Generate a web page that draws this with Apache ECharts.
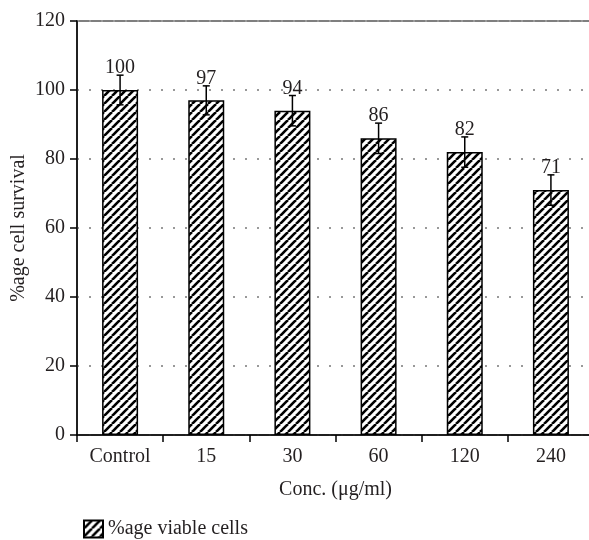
<!DOCTYPE html>
<html>
<head>
<meta charset="utf-8">
<script src="https://cdn.jsdelivr.net/npm/echarts@6/dist/echarts.min.js"></script>
<style>
html,body{margin:0;padding:0;background:#fff;}
#chart{width:589px;height:540px;}
</style>
</head>
<body>
<div id="chart"></div>
<script>
const categories = ['Control', '15', '30', '60', '120', '240'];
const survival = [100, 97, 94, 86, 82, 71];
const errors = [4.3, 4.2, 4.4, 4.4, 4.4, 4.4];
const yTicks = [0, 20, 40, 60, 80, 100, 120];
const seriesName = '%age viable cells';

const FONT = 'Liberation Serif';
const TXT = '#231f20';

// hatch pattern "/"
const S = 8;
const tile = document.createElement('canvas');
tile.width = S; tile.height = S;
const ctx = tile.getContext('2d');
ctx.fillStyle = '#fff';
ctx.fillRect(0, 0, S, S);
ctx.strokeStyle = '#000';
ctx.lineWidth = 2.6;
for (let k = -1; k <= 1; k++) {
  ctx.beginPath();
  ctx.moveTo(k * S, S);
  ctx.lineTo(k * S + S, 0);
  ctx.stroke();
}

const chart = echarts.init(document.getElementById('chart'));
const errData = survival.map((v, i) => [i, v, errors[i]]);

chart.setOption({
  animation: false,
  backgroundColor: '#fff',
  grid: {
    left: 77, right: -5, top: 21, bottom: 105,
    outerBoundsMode: 'none',
    containLabel: false,
    show: true, borderColor: '#555', borderWidth: 1.5, backgroundColor: 'transparent'
  },
  legend: {
    data: [seriesName],
    left: 78, top: 514,
    icon: 'rect',
    itemWidth: 19, itemHeight: 17, itemGap: 10,
    textStyle: { fontFamily: FONT, fontSize: 20, color: TXT }
  },
  xAxis: {
    type: 'category',
    data: categories,
    boundaryGap: true,
    name: 'Conc. (μg/ml)',
    nameLocation: 'middle',
    nameGap: 45,
    nameMoveOverlap: false,
    nameTextStyle: { fontFamily: FONT, fontSize: 20, color: TXT },
    axisLine: { lineStyle: { color: '#000', width: 1.5 } },
    axisTick: { show: true, length: 7, lineStyle: { color: '#000', width: 1.5 } },
    axisLabel: { fontFamily: FONT, fontSize: 20, color: TXT, margin: 12 },
    splitLine: { show: false }
  },
  yAxis: {
    type: 'value',
    min: yTicks[0], max: yTicks[yTicks.length - 1], interval: 20,
    name: '%age cell survival',
    nameLocation: 'middle',
    nameGap: 48,
    nameMoveOverlap: false,
    nameTextStyle: { fontFamily: FONT, fontSize: 20, color: TXT },
    axisLine: { show: true, lineStyle: { color: '#000', width: 1.5 } },
    axisTick: { show: true, length: 7, lineStyle: { color: '#000', width: 1.5 } },
    axisLabel: { fontFamily: FONT, fontSize: 20, color: TXT, margin: 12 },
    splitLine: { show: true, lineStyle: { color: '#999', width: 2, type: [2, 10] } }
  },
  series: [
    {
      name: seriesName,
      type: 'bar',
      data: survival,
      barWidth: 36,
      itemStyle: {
        color: { image: tile, repeat: 'repeat' },
        borderColor: '#000',
        borderWidth: 1.5
      }
    },
    {
      type: 'custom',
      data: errData,
      encode: { x: 0, y: 1 },
      z: 10,
      renderItem: function (params, api) {
        const i = api.value(0), v = api.value(1), e = api.value(2);
        const top = api.coord([i, v + e]);
        const bot = api.coord([i, v - e]);
        const cx = top[0];
        const cap = 3.5;
        const ls = { stroke: '#000', lineWidth: 1.5 };
        return {
          type: 'group',
          children: [
            { type: 'line', shape: { x1: cx, y1: top[1], x2: cx, y2: bot[1] }, style: ls },
            { type: 'line', shape: { x1: cx - cap, y1: top[1], x2: cx + cap, y2: top[1] }, style: ls },
            { type: 'line', shape: { x1: cx - cap, y1: bot[1], x2: cx + cap, y2: bot[1] }, style: ls },
            { type: 'text', x: cx, y: top[1] + 3, style: {
                text: String(v), fontFamily: FONT, fontSize: 20, fill: TXT,
                align: 'center', verticalAlign: 'bottom' } }
          ]
        };
      }
    }
  ]
});
</script>
</body>
</html>
